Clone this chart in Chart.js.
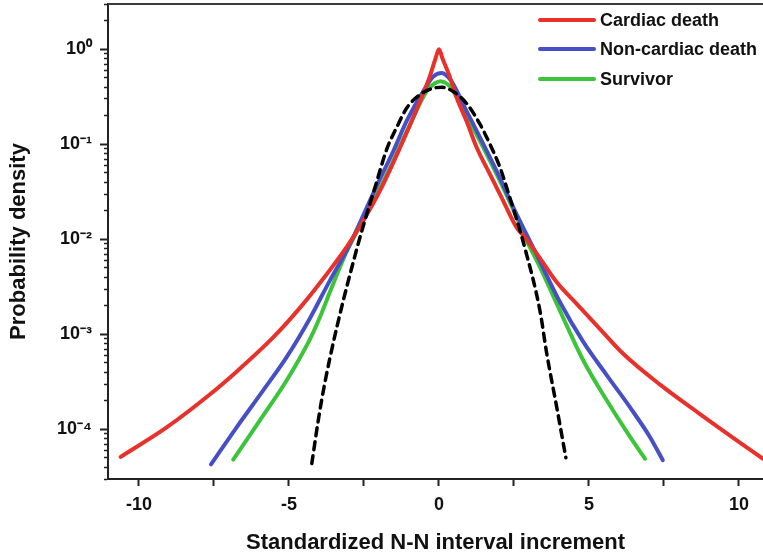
<!DOCTYPE html>
<html>
<head>
<meta charset="utf-8">
<script src="https://cdn.jsdelivr.net/npm/chart.js@4.4.1/dist/chart.umd.min.js"></script>
<style>
html,body{margin:0;padding:0;background:#fff;}
#wrap{width:763px;height:557px;}
</style>
</head>
<body>
<div id="wrap"><canvas id="c" width="763" height="557"></canvas></div>
<script>
// ---- data ----
const seriesNames = ['Cardiac death', 'Non-cardiac death', 'Survivor'];

const cardiacX = [-10.61, -9.08, -7.63, -6.74, -5.52, -4.63, -3.97, -3.08, -2.63, -1.97, -1.3, -0.63, -0.3, -0.12, 0, 0.12, 0.35, 0.59, 0.92, 1.26, 1.7, 2.14, 2.59, 2.87, 3.37, 3.92, 4.59, 5.3, 6.14, 7.37, 8.7, 10.03, 10.8];
const cardiacY = [5.13e-5, 1.047e-4, 2.34e-4, 4.07e-4, 9.33e-4, 1.91e-3, 3.47e-3, 8.3e-3, 1.38e-2, 3.24e-2, 0.092, 0.284, 0.525, 0.794, 1.0, 0.794, 0.525, 0.309, 0.175, 0.092, 0.0483, 0.0254, 0.0133, 0.01047, 6.31e-3, 3.55e-3, 2.09e-3, 1.2e-3, 6.24e-4, 2.95e-4, 1.445e-4, 7.24e-5, 4.9e-5];

const nonCardiacX = [-7.6, -6.74, -5.86, -5.08, -4.3, -3.63, -3.08, -2.86, -2.08, -1.52, -1.08, -0.52, -0.2, 0.09, 0.4, 0.92, 1.37, 1.92, 2.48, 3.3, 4.03, 4.81, 5.59, 6.37, 7.03, 7.46];
const nonCardiacY = [4.27e-5, 1.057e-4, 2.57e-4, 5.75e-4, 1.48e-3, 3.72e-3, 7.59e-3, 1.047e-2, 3.63e-2, 8.51e-2, 0.175, 0.363, 0.513, 0.564, 0.468, 0.224, 0.1175, 0.0525, 0.0216, 6.46e-3, 2.19e-3, 8.32e-4, 3.72e-4, 1.7e-4, 8.32e-5, 4.73e-5];

const survivorX = [-6.86, -5.97, -5.08, -4.3, -3.97, -3.63, -3.08, -2.3, -1.63, -1.02, -0.41, -0.15, 0.05, 0.3, 0.48, 0.92, 1.48, 2.03, 2.59, 2.87, 3.37, 4.03, 4.81, 5.59, 6.37, 6.87];
const survivorY = [4.79e-5, 1.245e-4, 3.27e-4, 8.91e-4, 1.51e-3, 2.82e-3, 7.41e-3, 0.0216, 0.0568, 0.149, 0.363, 0.437, 0.461, 0.427, 0.363, 0.1995, 0.092, 0.0411, 0.017, 0.01047, 5.06e-3, 1.78e-3, 5.3e-4, 2.02e-4, 8.32e-5, 4.9e-5];

const gaussX = [-4.24, -3.97, -3.63, -2.74, -2.13, -1.74, -1.41, -1.08, -0.6, -0.2, 0.1, 0.5, 0.92, 1.37, 1.7, 2.03, 2.26, 2.87, 3.37, 3.59, 3.92, 4.23];
const gaussY = [4.37e-5, 1.585e-4, 5.75e-4, 7.94e-3, 0.0355, 0.0891, 0.151, 0.24, 0.339, 0.389, 0.398, 0.355, 0.269, 0.162, 0.1, 0.0575, 0.0347, 7.94e-3, 1.74e-3, 6.31e-4, 1.74e-4, 5.01e-5];

const xTickValues = [-10, -7.5, -5, -2.5, 0, 2.5, 5, 7.5, 10];
const xTickLabels = ['-10', '', '-5', '', '0', '', '5', '', '10'];
const yDecadeValues = [1e-4, 1e-3, 1e-2, 1e-1, 1];
const yDecadeLabels = ['10\u207B\u2074', '10\u207B\u00B3', '10\u207B\u00B2', '10\u207B\u00B9', '10\u2070'];

const xTitle = 'Standardized N-N interval increment';
const yTitle = 'Probability density';

// ---- helpers ----
const FONT = "'Liberation Sans', Arial, Helvetica, sans-serif";
const toPts = (xs, ys) => xs.map((x, i) => ({x: x, y: ys[i]}));
const isDecade = v => Math.abs(Math.log10(v) - Math.round(Math.log10(v))) < 1e-6;

function yTicks(min, max) {
  const t = [];
  for (let e = -6; e <= 1; e++) {
    for (let k = 1; k <= 9; k++) {
      const v = k * Math.pow(10, e);
      if (v >= min * 0.9999 && v <= max * 1.0001) t.push({value: v, major: k === 1});
    }
  }
  return t;
}

const COLORS = ['#e8312b', '#4650c4', '#3cc43a'];

const overlay = {
  id: 'overlay',
  afterDraw(chart) {
    const {ctx, chartArea} = chart;
    ctx.save();
    // top frame line
    ctx.strokeStyle = '#3a3a3a';
    ctx.lineWidth = 2;
    ctx.beginPath();
    ctx.moveTo(chartArea.left, chartArea.top);
    ctx.lineTo(chartArea.right, chartArea.top);
    ctx.stroke();
    // legend
    const x0 = chartArea.right - 223;
    const rows = [chartArea.top + 16, chartArea.top + 45, chartArea.top + 75];
    ctx.font = 'bold 18px ' + FONT;
    ctx.textBaseline = 'middle';
    ctx.textAlign = 'left';
    chart.data.datasets.forEach(ds => {
      const idx = seriesNames.indexOf(ds.label);
      if (idx < 0) return;
      const y = rows[idx];
      ctx.strokeStyle = ds.borderColor;
      ctx.lineWidth = 4;
      ctx.lineCap = 'round';
      ctx.beginPath();
      ctx.moveTo(x0, y);
      ctx.lineTo(x0 + 54, y);
      ctx.stroke();
      ctx.fillStyle = '#111';
      ctx.fillText(ds.label, x0 + 60, y + 1);
    });
    ctx.restore();
  }
};

new Chart(document.getElementById('c').getContext('2d'), {
  type: 'line',
  data: {
    datasets: [
      {label: 'Gaussian', data: toPts(gaussX, gaussY), borderColor: '#000', borderWidth: 3.5, borderDash: [8, 6]},
      {label: seriesNames[0], data: toPts(cardiacX, cardiacY), borderColor: COLORS[0], borderWidth: 4},
      {label: seriesNames[1], data: toPts(nonCardiacX, nonCardiacY), borderColor: COLORS[1], borderWidth: 4},
      {label: seriesNames[2], data: toPts(survivorX, survivorY), borderColor: COLORS[2], borderWidth: 4}
    ]
  },
  options: {
    responsive: false,
    animation: false,
    layout: {padding: {top: 4, right: 0, bottom: 0, left: 0}},
    elements: {
      point: {radius: 0},
      line: {cubicInterpolationMode: 'monotone', fill: false, borderCapStyle: 'round', borderJoinStyle: 'round'}
    },
    plugins: {legend: {display: false}, tooltip: {enabled: false}},
    scales: {
      x: {
        type: 'linear',
        min: -11.033,
        max: 10.8,
        afterBuildTicks: s => { s.ticks = xTickValues.map(v => ({value: v})); },
        afterFit: s => { s.height = 78; s.paddingLeft = 0; s.paddingRight = 0; },
        ticks: {
          autoSkip: false, maxRotation: 0, padding: 8, color: '#111',
          font: {family: FONT, size: 18, weight: 'bold'},
          callback: (v) => { const i = xTickValues.indexOf(v); return i >= 0 ? xTickLabels[i] : ''; }
        },
        grid: {display: true, drawOnChartArea: false, drawTicks: true, tickLength: 7, tickWidth: 2, tickColor: '#222'},
        border: {display: true, color: '#222', width: 2},
        title: {display: true, text: xTitle, color: '#111', font: {family: FONT, size: 22, weight: 'bold'}, padding: {top: 0, bottom: 1}}
      },
      y: {
        type: 'logarithmic',
        min: 3e-5,
        max: 3,
        afterBuildTicks: s => { s.ticks = yTicks(3e-5, 3); },
        afterFit: s => { s.width = 108; s.paddingTop = 0; s.paddingBottom = 0; },
        ticks: {
          autoSkip: false, padding: 8, color: '#111',
          font: {family: FONT, size: 18, weight: 'bold'},
          callback: (v) => { const i = yDecadeValues.findIndex(d => Math.abs(d - v) / d < 1e-6); return i >= 0 ? yDecadeLabels[i] : ''; }
        },
        grid: {
          display: true, drawOnChartArea: false, drawTicks: true, tickLength: 8, tickColor: '#222',
          tickWidth: c => (c.tick && isDecade(c.tick.value)) ? 2 : 1.5,
          tickBorderDash: c => (c.tick && isDecade(c.tick.value)) ? [] : [0, 4, 4, 100]
        },
        border: {display: true, color: '#222', width: 2},
        title: {display: true, text: yTitle, color: '#111', font: {family: FONT, size: 22, weight: 'bold'}, padding: {top: 6, bottom: 0}}
      }
    }
  },
  plugins: [overlay]
});
</script>
</body>
</html>
